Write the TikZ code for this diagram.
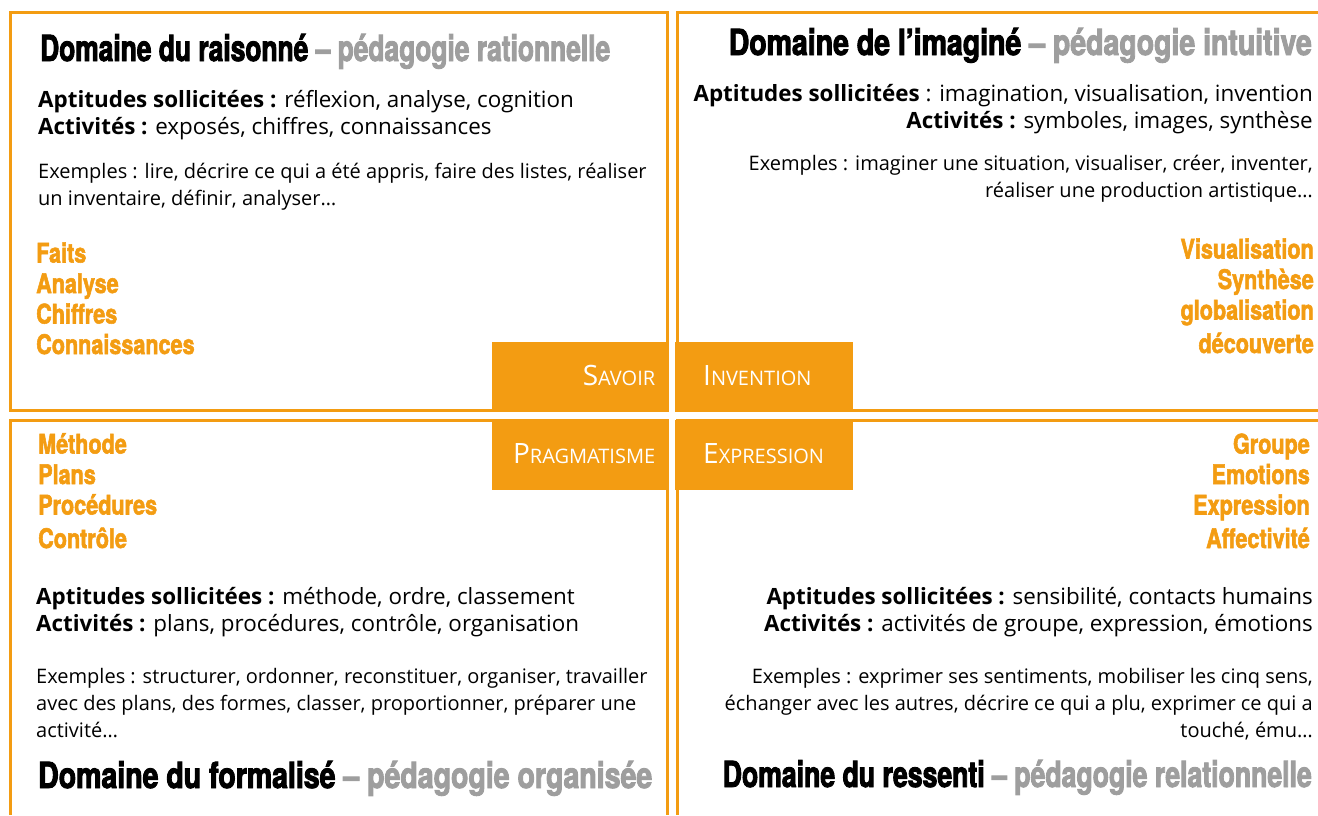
\documentclass[tikz,border=0pt]{standalone}
\usepackage{fontspec}
\setmainfont{Open Sans}
\newfontfamily\headfont{TeX Gyre Heros}[FakeStretch=0.76,FakeBold=2.5]
\newfontfamily\keyfamily{TeX Gyre Heros}[FakeStretch=0.8,FakeBold=2]
\usetikzlibrary{positioning}

\definecolor{domorange}{RGB}{243,156,18}
\definecolor{domgray}{RGB}{158,158,158}

\newcommand{\titlefont}{\headfont\bfseries\fontsize{36}{36}\selectfont}
\newcommand{\keyfont}{\keyfamily\bfseries\fontsize{27}{30.5}\selectfont}
\newcommand{\bodyfont}{\fontsize{22.4}{27}\selectfont}
\newcommand{\exfont}{\fontsize{20}{27}\selectfont}
\newcommand{\tagsc}[2]{{\fontsize{28}{28}\selectfont #1}{\fontsize{20}{20}\selectfont #2}}
% title fitted to a given width: width, domain, pedagogy
\newcommand{\domtitle}[3]{\resizebox{#1}{\height}{#2 \textcolor{domgray}{– #3}}}

\begin{document}
\begin{tikzpicture}[x=1pt, y=-1pt,
    frame/.style={draw=domorange, line width=3pt},
    tagbox/.style={fill=domorange, text=white, minimum height=69.5pt, text height=20pt, text depth=3pt, anchor=north west},
    title/.style={font=\titlefont, inner sep=0pt},
    body/.style={font=\bodyfont, inner sep=0pt},
    example/.style={font=\exfont, inner sep=0pt},
    keys/.style={font=\keyfont, text=domorange, inner sep=0pt}
]
    \useasboundingbox (0,0) rectangle (1318,815);

    % Frames of the four domains
    \draw[frame] (10.5,12) rectangle (667.3,410.5);
    \draw[frame] (1318,12) -- (677,12) -- (677,410.5) -- (1318,410.5);
    \draw[frame] (10.5,815) -- (10.5,420.7) -- (667.3,420.7) -- (667.3,815);
    \draw[frame] (1318,420.7) -- (677,420.7) -- (677,815);

    % Central tags
    \node[tagbox, text width=152pt, inner xsep=11pt, align=right] (savoir) at (492,342) {\tagsc{S}{AVOIR}};
    \node[tagbox, text width=122pt, inner xsep=28pt, align=left] (invention) at (675,342) {\tagsc{I}{NVENTION}};
    \node[tagbox, text width=152pt, inner xsep=11pt, align=right] (pragmatisme) at (492,420) {\tagsc{P}{RAGMATISME}};
    \node[tagbox, text width=122pt, inner xsep=28pt, align=left] (expression) at (675,420) {\tagsc{E}{XPRESSION}};

    % Domaine du raisonne (base = last line)
    \node[title, anchor=base west] (raisonne) at (40,61) {\domtitle{570pt}{Domaine du raisonné}{pédagogie rationnelle}};
    \node[body, anchor=base west, align=left] (raisonne-apt) at (38,134) {\textbf{Aptitudes sollicitées :} réflexion, analyse, cognition\\\textbf{Activités :} exposés, chiffres, connaissances};
    \node[example, anchor=base west, align=left] (raisonne-ex) at (38,205) {Exemples : lire, décrire ce qui a été appris, faire des listes, réaliser\\un inventaire, définir, analyser…};
    \node[keys, anchor=base west, align=left] (raisonne-keys) at (36,354) {Faits\\Analyse\\Chiffres\\Connaissances};

    % Domaine de l'imagine
    \node[title, anchor=base east] (imagine) at (1312,55) {\domtitle{583pt}{Domaine de l’imaginé}{pédagogie intuitive}};
    \node[body, anchor=base east, align=right] (imagine-apt) at (1313,128) {\textbf{Aptitudes sollicitées} : imagination, visualisation, invention\\\textbf{Activités :} symboles, images, synthèse};
    \node[example, anchor=base east, align=right] (imagine-ex) at (1313,197) {Exemples : imaginer une situation, visualiser, créer, inventer,\\réaliser une production artistique…};
    \node[keys, anchor=base east, align=right] (imagine-keys) at (1314,353) {Visualisation\\Synthèse\\globalisation\\[3pt]découverte};

    % Domaine du formalise
    \node[keys, anchor=base west, align=left] (formalise-keys) at (38,548) {Méthode\\Plans\\Procédures\\[3pt]Contrôle};
    \node[body, anchor=base west, align=left] (formalise-apt) at (36,631) {\textbf{Aptitudes sollicitées :} méthode, ordre, classement\\\textbf{Activités :} plans, procédures, contrôle, organisation};
    \node[example, anchor=base west, align=left] (formalise-ex) at (36,737) {Exemples : structurer, ordonner, reconstituer, organiser, travailler\\avec des plans, des formes, classer, proportionner, préparer une\\activité…};
    \node[title, anchor=base west] (formalise) at (38,788) {\domtitle{614pt}{Domaine du formalisé}{pédagogie organisée}};

    % Domaine du ressenti
    \node[keys, anchor=base east, align=right] (ressenti-keys) at (1310,548) {Groupe\\Emotions\\Expression\\[3pt]Affectivité};
    \node[body, anchor=base east, align=right] (ressenti-apt) at (1313,631) {\textbf{Aptitudes sollicitées :} sensibilité, contacts humains\\\textbf{Activités :} activités de groupe, expression, émotions};
    \node[example, anchor=base east, align=right] (ressenti-ex) at (1313,737) {Exemples : exprimer ses sentiments, mobiliser les cinq sens,\\échanger avec les autres, décrire ce qui a plu, exprimer ce qui a\\touché, ému…};
    \node[title, anchor=base east] (ressenti) at (1312,787) {\domtitle{589pt}{Domaine du ressenti}{pédagogie relationnelle}};
\end{tikzpicture}
\end{document}
